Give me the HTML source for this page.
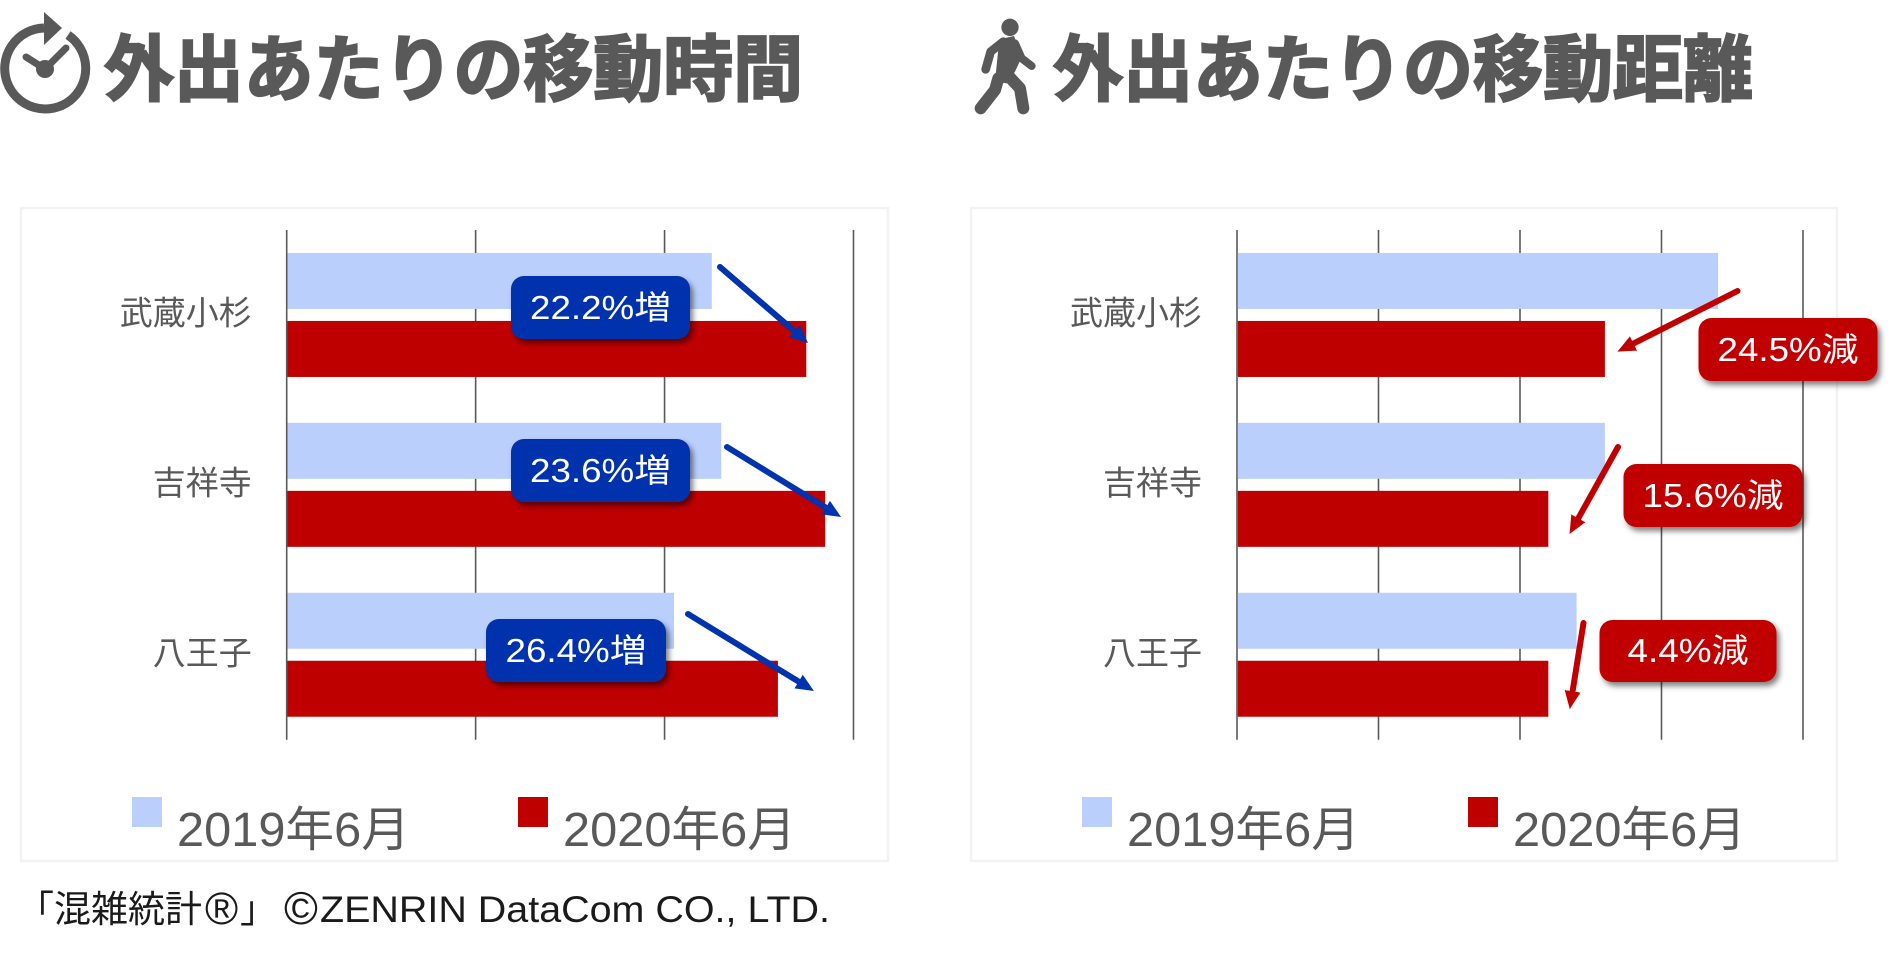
<!DOCTYPE html>
<html lang="ja">
<head>
<meta charset="utf-8">
<title>外出あたりの移動時間と移動距離</title>
<style>
html,body{margin:0;padding:0;background:#fff;width:1891px;height:953px;overflow:hidden}
svg{display:block}
text{font-family:"Liberation Sans","Noto Sans CJK JP",sans-serif}
.title{font-size:72px;font-weight:700;fill:#595959;stroke:#595959;stroke-width:2.2}
.call{font-size:33px;fill:#fff;text-anchor:middle}
.credit{font-size:37px;fill:#1a1a1a}
</style>
</head>
<body>
<svg id="page" xmlns="http://www.w3.org/2000/svg" width="1891" height="953" viewBox="0 0 1891 953">
  <defs>
    <filter id="shadow" x="-10%" y="-15%" width="125%" height="140%">
      <feDropShadow dx="3" dy="4" stdDeviation="3" flood-color="#000" flood-opacity="0.5"/>
    </filter>
    <marker id="head-blue" markerUnits="userSpaceOnUse" markerWidth="20" markerHeight="18" refX="0" refY="8" orient="auto">
      <polygon points="0,0 18,8 0,16" fill="#0033AD"/>
    </marker>
    <marker id="head-red" markerUnits="userSpaceOnUse" markerWidth="20" markerHeight="18" refX="0" refY="8" orient="auto">
      <polygon points="0,0 18,8 0,16" fill="#C00000"/>
    </marker>
  </defs>

  <g>
    <path d="M44 28 A40.5 40.5 0 1 0 68 35" fill="none" stroke="#595959" stroke-width="9"/>
    <polygon points="44,12 62,28 44,45" fill="#595959"/>
    <circle cx="45" cy="69" r="9" fill="#595959"/>
    <path d="M26 57 L45 69 L66 48" fill="none" stroke="#595959" stroke-width="7" stroke-linecap="round"/>
  </g>
  <text class="title" x="104" y="95" textLength="699" lengthAdjust="spacingAndGlyphs">外出あたりの移動時間</text>

  <g transform="translate(960,0) scale(0.3333)" fill="none" stroke="#595959" stroke-linecap="round" stroke-linejoin="round">
    <circle cx="150" cy="82" r="26" fill="#595959" stroke="none"/>
    <polygon points="118,118 162,108 186,170 165,215 140,250 105,245" fill="#595959" stroke="none"/>
    <path d="M130 125 L92 155 L77 208" stroke-width="26"/>
    <path d="M165 130 L185 175 L215 198" stroke-width="24"/>
    <path d="M115 235 L105 270 L62 325" stroke-width="36"/>
    <path d="M140 222 L180 265 L190 325" stroke-width="36"/>
  </g>
  <text class="title" x="1053" y="95" textLength="700" lengthAdjust="spacingAndGlyphs">外出あたりの移動距離</text>

  <g id="time-chart"></g>
  <g id="distance-chart"></g>

  <g>
    <g>
      <line x1="720" y1="267" x2="794.4" y2="331.2" stroke="#0033AD" stroke-width="6" stroke-linecap="round" marker-end="url(#head-blue)"/>
      <rect x="511" y="276" width="179" height="63" rx="13" fill="#0033AD" filter="url(#shadow)"/>
      <text class="call" x="600.5" y="319" textLength="141" lengthAdjust="spacingAndGlyphs">22.2%増</text>
    </g>
    <g>
      <line x1="727" y1="447" x2="825.7" y2="507.6" stroke="#0033AD" stroke-width="6" stroke-linecap="round" marker-end="url(#head-blue)"/>
      <rect x="511" y="439" width="179" height="63" rx="13" fill="#0033AD" filter="url(#shadow)"/>
      <text class="call" x="600.5" y="482" textLength="141" lengthAdjust="spacingAndGlyphs">23.6%増</text>
    </g>
    <g>
      <line x1="688" y1="614" x2="798.6" y2="681.6" stroke="#0033AD" stroke-width="6" stroke-linecap="round" marker-end="url(#head-blue)"/>
      <rect x="486" y="619" width="180" height="63" rx="13" fill="#0033AD" filter="url(#shadow)"/>
      <text class="call" x="576" y="662" textLength="141" lengthAdjust="spacingAndGlyphs">26.4%増</text>
    </g>
  </g>

  <g>
    <g>
      <line x1="1737.5" y1="291" x2="1633.5" y2="343.5" stroke="#C00000" stroke-width="6" stroke-linecap="round" marker-end="url(#head-red)"/>
      <rect x="1698.5" y="318" width="179" height="63" rx="13" fill="#C00000" filter="url(#shadow)"/>
      <text class="call" x="1788" y="361" textLength="141" lengthAdjust="spacingAndGlyphs">24.5%減</text>
    </g>
    <g>
      <line x1="1618" y1="447" x2="1578.3" y2="518.3" stroke="#C00000" stroke-width="6" stroke-linecap="round" marker-end="url(#head-red)"/>
      <rect x="1623.5" y="464" width="179" height="63" rx="13" fill="#C00000" filter="url(#shadow)"/>
      <text class="call" x="1713" y="507" textLength="141" lengthAdjust="spacingAndGlyphs">15.6%減</text>
    </g>
    <g>
      <line x1="1583.5" y1="623" x2="1572.6" y2="691.3" stroke="#C00000" stroke-width="6" stroke-linecap="round" marker-end="url(#head-red)"/>
      <rect x="1599.5" y="620" width="177" height="62" rx="13" fill="#C00000" filter="url(#shadow)"/>
      <text class="call" x="1688" y="662" textLength="121" lengthAdjust="spacingAndGlyphs">4.4%減</text>
    </g>
  </g>

  <g>
    <text class="credit" x="17" y="922">「混雑統計</text>
    <text class="credit" x="205" y="924" style="font-size:45px">®</text>
    <text class="credit" x="240" y="922">」</text>
    <text class="credit" x="284" y="924" style="font-size:46px">©</text>
    <text class="credit" x="320" y="922" textLength="510" lengthAdjust="spacingAndGlyphs">ZENRIN DataCom CO., LTD.</text>
  </g>
</svg>

<script>
const categories = ['武蔵小杉', '吉祥寺', '八王子'];
const seriesNames = ['2019年6月', '2020年6月'];
const time2019 = [22.5, 23.0, 20.5];
const time2020 = [27.5, 28.5, 26.0];
const timeTicks = [0, 10, 20, 30];
const distance2019 = [1.70, 1.30, 1.20];
const distance2020 = [1.30, 1.10, 1.10];
const distanceTicks = [0, 0.5, 1.0, 1.5, 2.0];

const SVG_NS = 'http://www.w3.org/2000/svg';
const COLOR_2019 = '#BBCFFC';
const COLOR_2020 = '#BF0000';
const PLOT_TOP = 230;
const PLOT_BOTTOM = 739.7;
const BAR_HEIGHT = 56;
const BAR_GAP = 12;

function make(parent, tag, attrs) {
  const el = document.createElementNS(SVG_NS, tag);
  for (const key in attrs) el.setAttribute(key, attrs[key]);
  parent.appendChild(el);
  return el;
}

function drawChart(root, prefix, frame, axis, ticks, values2019, values2020, legend) {
  const xScale = v => axis.x0 + (v - ticks[0]) / (ticks[ticks.length - 1] - ticks[0]) * (axis.x1 - axis.x0);
  const bandHeight = (PLOT_BOTTOM - PLOT_TOP) / categories.length;
  const bandCenter = i => PLOT_TOP + bandHeight * (i + 0.5);

  const background = make(root, 'rect', {x: frame.x, y: frame.y, width: frame.w, height: frame.h, fill: '#fff', stroke: '#F2F2F2', 'stroke-width': 2.5});
  
  

  ticks.forEach(t => {
    const grid = make(root, 'line', {x1: xScale(t), x2: xScale(t), y1: PLOT_TOP, y2: PLOT_BOTTOM, stroke: '#595959', 'stroke-width': 1.6});
    
    
  });

  categories.forEach((name, i) => {
    const center = bandCenter(i);
    const label = make(root, 'text', {x: axis.x0 - 35, y: center + 9.5, 'font-size': 33, fill: '#595959', 'text-anchor': 'end'});
    label.textContent = name;
    
    

    const bar2019 = make(root, 'rect', {x: xScale(0) + 0.8, y: center - BAR_GAP / 2 - BAR_HEIGHT, width: xScale(values2019[i]) - xScale(0) - 0.8, height: BAR_HEIGHT, fill: COLOR_2019});
    
    

    const bar2020 = make(root, 'rect', {x: xScale(0) + 0.8, y: center + BAR_GAP / 2, width: xScale(values2020[i]) - xScale(0) - 0.8, height: BAR_HEIGHT, fill: COLOR_2020});
    
    
  });

  seriesNames.forEach((name, i) => {
    const swatch = make(root, 'rect', {x: legend.swatchX[i], y: 797, width: 30, height: 30, fill: i === 0 ? COLOR_2019 : COLOR_2020});
    
    

    const text = make(root, 'text', {x: legend.textX[i], y: 846, 'font-size': 48, fill: '#595959', textLength: 233, lengthAdjust: 'spacingAndGlyphs'});
    text.textContent = name;
    
    
  });
}

drawChart(document.getElementById('time-chart'), 'time',
  {x: 21, y: 208, w: 867, h: 653},
  {x0: 286.7, x1: 853.5},
  timeTicks, time2019, time2020,
  {swatchX: [132, 518], textX: [177, 563]});

drawChart(document.getElementById('distance-chart'), 'distance',
  {x: 971, y: 208, w: 866, h: 653},
  {x0: 1237, x1: 1803},
  distanceTicks, distance2019, distance2020,
  {swatchX: [1082, 1468], textX: [1127, 1513]});
</script>
</body>
</html>
